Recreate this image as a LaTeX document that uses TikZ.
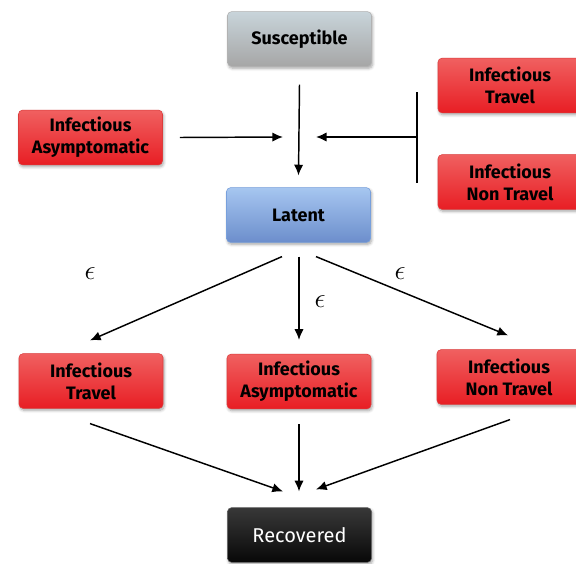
\documentclass[tikz,border=0pt]{standalone}
\usepackage{fontspec}
\setmainfont{Fira Sans}
\usetikzlibrary{arrows.meta,shadows.blur}

\definecolor{redtop}{RGB}{240,96,96}
\definecolor{redbot}{RGB}{232,30,36}
\definecolor{redline}{RGB}{220,60,60}
\definecolor{greytop}{RGB}{200,212,218}
\definecolor{greybot}{RGB}{166,166,166}
\definecolor{bluetop}{RGB}{166,198,240}
\definecolor{bluebot}{RGB}{108,142,204}
\definecolor{blueline}{RGB}{120,160,220}

\tikzset{
  box/.style={rounded corners=3pt, minimum width=108pt, minimum height=41pt,
    align=center, font=\bfseries\fontsize{13.5}{16.5}\selectfont,
    blur shadow={shadow blur steps=6, shadow xshift=0.8pt, shadow yshift=-1.5pt, shadow opacity=35}},
  redbox/.style={box, top color=redtop, bottom color=redbot, draw=redline, line width=0.4pt},
  greybox/.style={box, top color=greytop, bottom color=greybot, draw=gray!60, line width=0.4pt},
  bluebox/.style={box, top color=bluetop, bottom color=bluebot, draw=blueline, line width=0.4pt},
  blackbox/.style={box, top color=black!78, bottom color=black!97, draw=black!60, font=\fontsize{15}{17}\selectfont, text=white},
  arr/.style={-{Latex[length=8pt,width=7pt]}, line width=1.1pt},
  eps/.style={font=\huge}
}

\begin{document}
\begin{tikzpicture}[x=0.75pt, y=-0.75pt]
  \useasboundingbox (0,0) rectangle (576,564);

  % Top row
  \node[greybox] (sus) at (299.5,39) {Susceptible};
  \node[redbox] (ia1) at (90.5,137.5) {Infectious\\Asymptomatic};
  \node[redbox] (it1) at (510,85.5) {Infectious\\Travel};
  \node[redbox] (int1) at (510,182) {Infectious\\Non Travel};

  \node[bluebox] (lat) at (298.5,215) {Latent};

  % Second row
  \node[redbox] (it2) at (91,381) {Infectious\\Travel};
  \node[redbox] (ia2) at (299,381.5) {Infectious\\Asymptomatic};
  \node[redbox] (int2) at (509,377) {Infectious\\Non Travel};

  \node[blackbox] (rec) at (299.5,535) {Recovered};

  % Infection into latent
  \draw[arr] ([shift={(0,18)}]sus.south) -- ([shift={(0,-12)}]lat.north);
  \draw[arr] ([shift={(17,0)}]ia1.east) -- (283,137);
  \coordinate (bartop) at (417,92);
  \coordinate (barbot) at (417,183);
  \coordinate (barmid) at (417,137);
  \draw[line width=1.1pt] (bartop) -- (barbot);
  \draw[arr] (barmid) -- (316,137);

  % Latent splits
  \draw[arr] ([shift={(-16.5,14)}]lat.south) -- ([shift={(-1,-13)}]it2.north);
  \draw[arr] ([shift={(0.5,14)}]lat.south) -- ([shift={(0,-14)}]ia2.north);
  \draw[arr] ([shift={(17.5,14)}]lat.south) -- ([shift={(-1,-14)}]int2.north);
  \node[eps] (e1) at (90,274) {$\epsilon$};
  \node[eps] (e2) at (320,302) {$\epsilon$};
  \node[eps] (e3) at (400,274) {$\epsilon$};

  % Recovery
  \draw[arr] ([shift={(-1,15)}]it2.south) -- ([shift={(-16.5,-16)}]rec.north);
  \draw[arr] ([shift={(0,15)}]ia2.south) -- ([shift={(-0.5,-16)}]rec.north);
  \draw[arr] ([shift={(1,15)}]int2.south) -- ([shift={(16.5,-18)}]rec.north);
\end{tikzpicture}
\end{document}
